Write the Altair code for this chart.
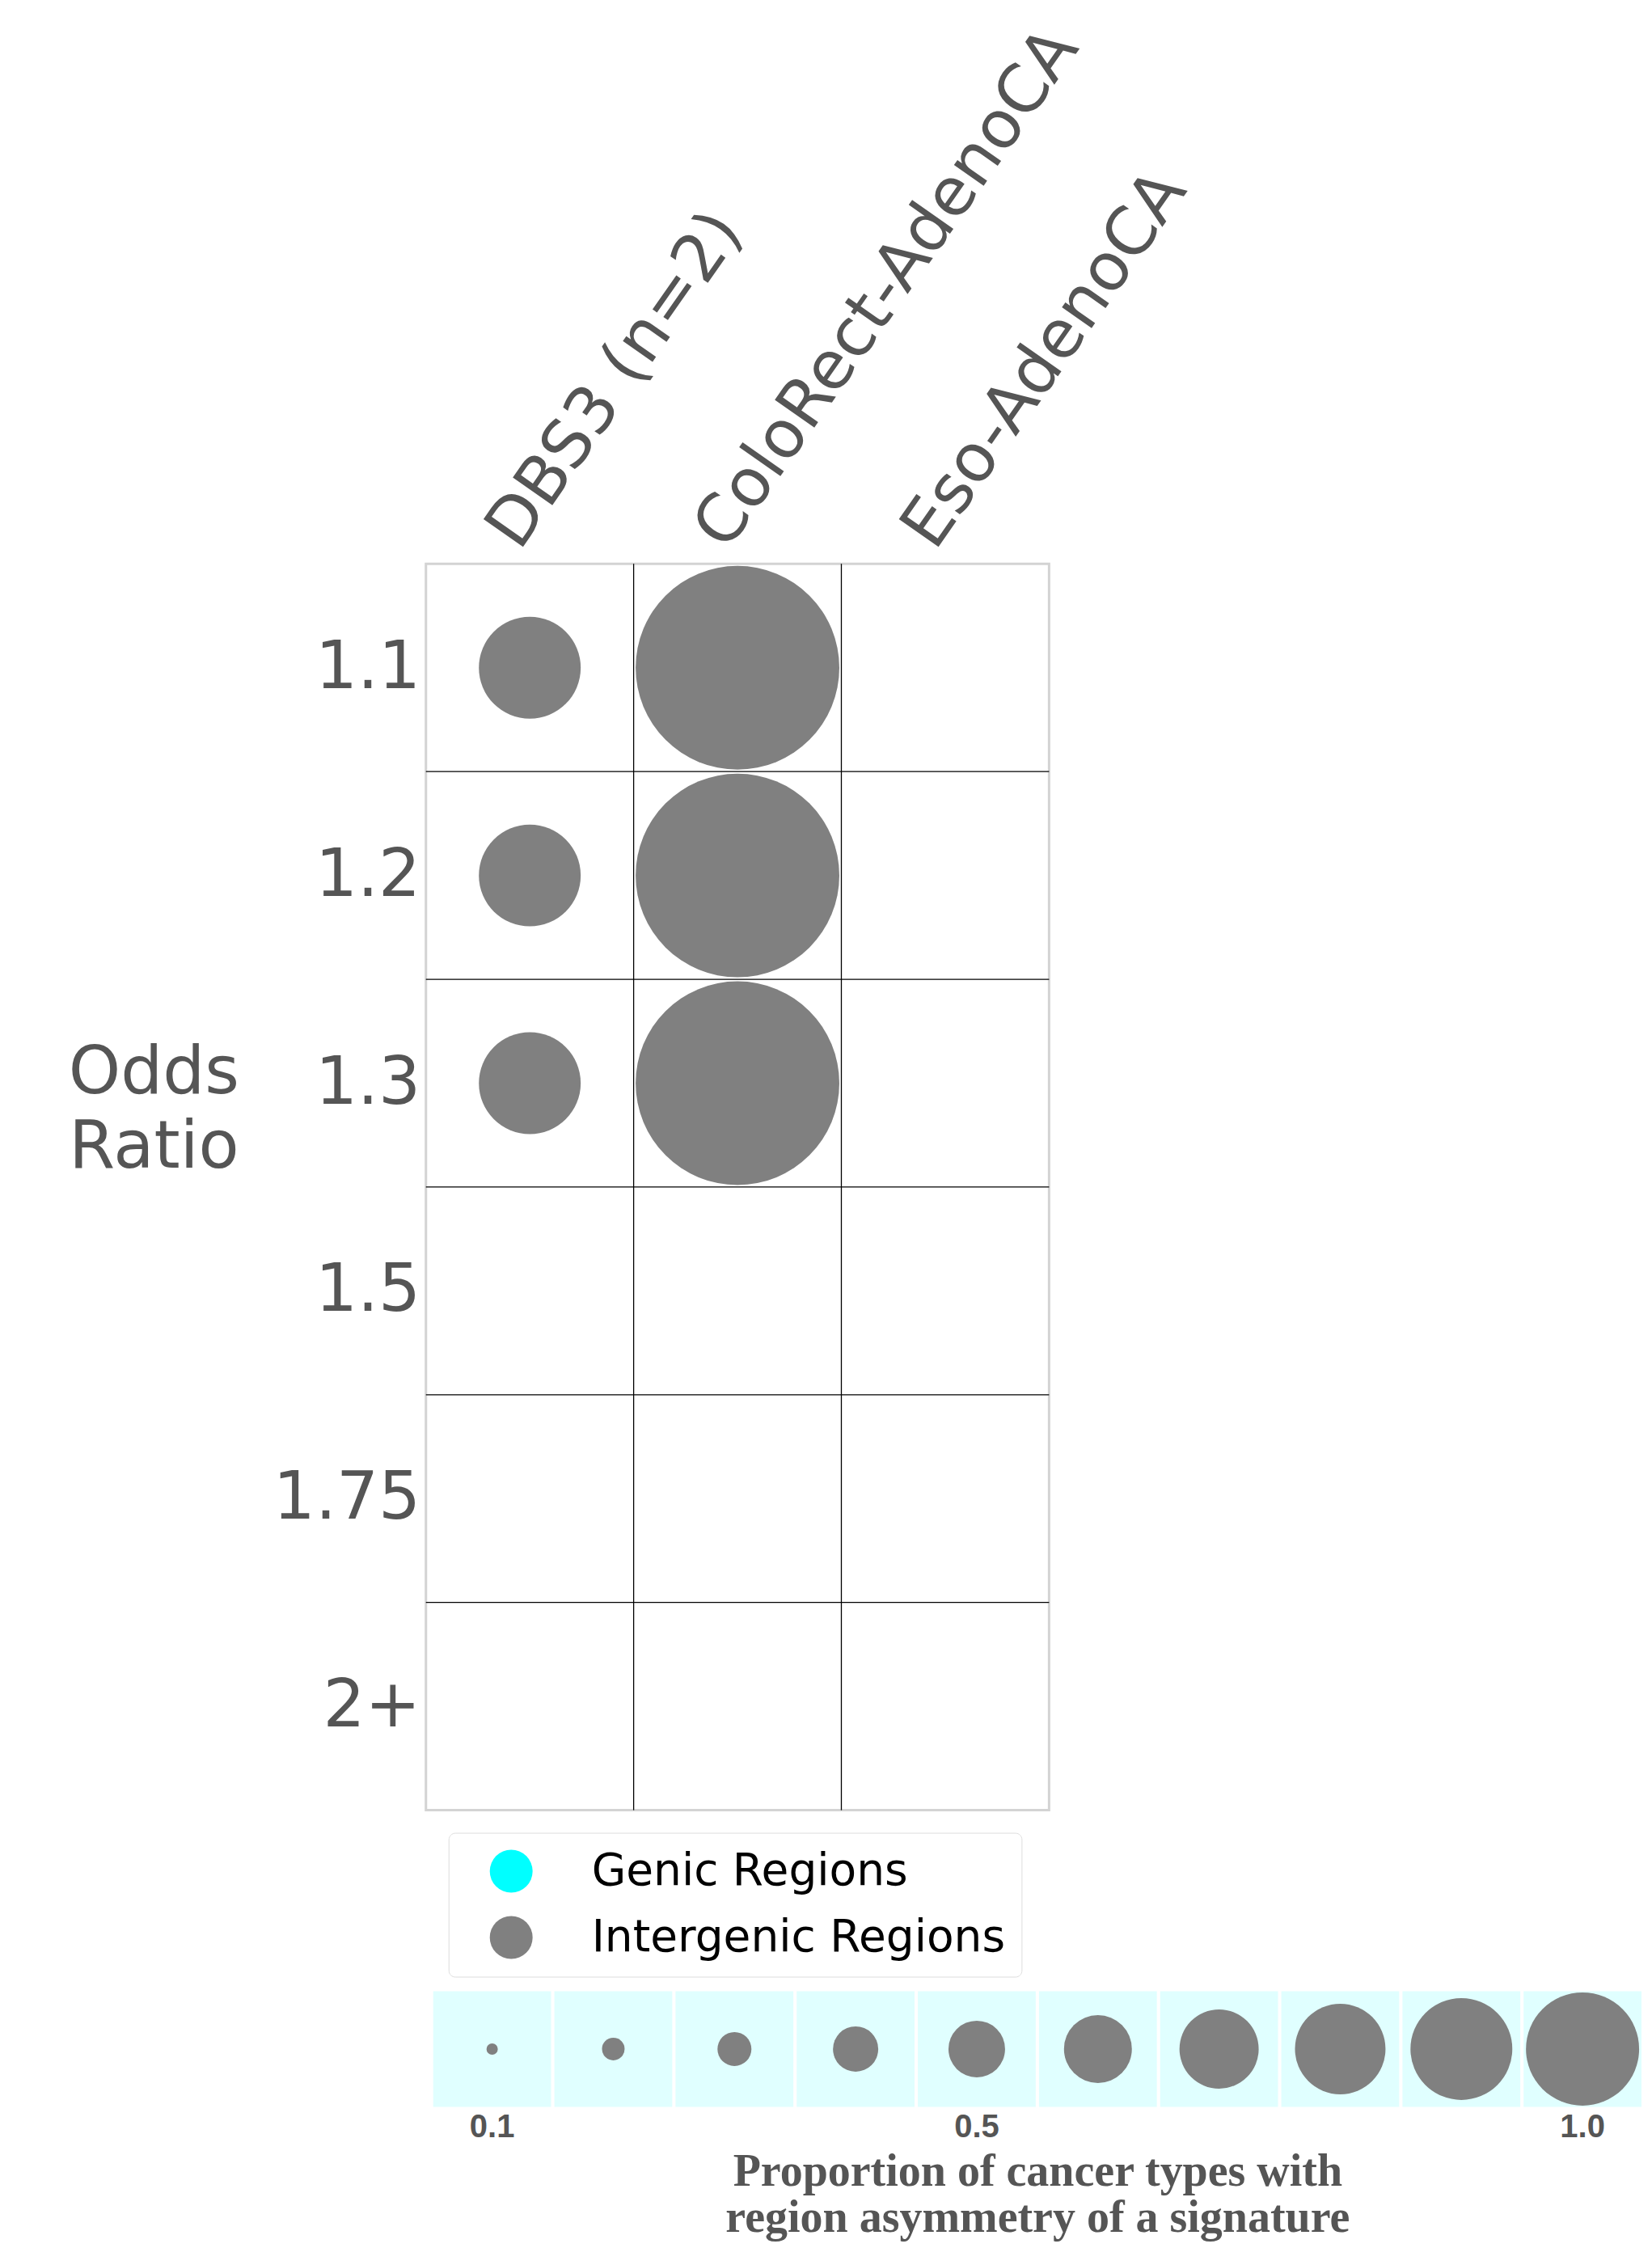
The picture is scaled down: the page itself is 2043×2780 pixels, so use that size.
import altair as alt
import pandas as pd

# ---------------- data ----------------
cancer_types = ["DBS3 (n=2)", "ColoRect-AdenoCA", "Eso-AdenoCA"]
odds_ratios = ["1.1", "1.2", "1.3", "1.5", "1.75", "2+"]

circle_type = ["DBS3 (n=2)", "DBS3 (n=2)", "DBS3 (n=2)",
               "ColoRect-AdenoCA", "ColoRect-AdenoCA", "ColoRect-AdenoCA"]
circle_odds = ["1.1", "1.2", "1.3", "1.1", "1.2", "1.3"]
circle_prop = [0.5, 0.5, 0.5, 1.0, 1.0, 1.0]
circle_region = ["Intergenic Regions"] * 6

regions = ["Genic Regions", "Intergenic Regions"]
region_colors = ["#00ffff", "#808080"]

size_labels = ["0.1", "0.2", "0.3", "0.4", "0.5", "0.6", "0.7", "0.8", "0.9", "1.0"]
size_values = [0.1, 0.2, 0.3, 0.4, 0.5, 0.6, 0.7, 0.8, 0.9, 1.0]
size_ticks = ["0.1", "0.5", "1.0"]
size_title = ["Proportion of cancer types with", "region asymmetry of a signature"]

# ---------------- styling ----------------
TXT = "#555555"
CELL = 257
W = CELL * len(cancer_types)
H = CELL * len(odds_ratios)
MAIN_D = 252      # diameter of a circle with proportion 1.0 in the grid
STRIP_D = 140     # diameter of a circle with proportion 1.0 in the size key

circles_df = pd.DataFrame({"ctype": circle_type, "odds": circle_odds,
                           "prop": circle_prop, "region": circle_region})
vlines_df = pd.DataFrame({"ctype": cancer_types[1:]})
hlines_df = pd.DataFrame({"odds": odds_ratios[1:]})

x_scale = alt.Scale(type="band", domain=cancer_types, paddingInner=0, paddingOuter=0)
y_scale = alt.Scale(type="band", domain=odds_ratios, paddingInner=0, paddingOuter=0)

x_axis = alt.Axis(orient="top", labelAngle=305, labelAlign="left",
                  labelBaseline="alphabetic", labelFont="DejaVu Sans",
                  labelFontSize=82, labelColor=TXT, labelPadding=15,
                  labelOffset=-13, ticks=False, tickSize=0, domain=False,
                  grid=False, title=None, labelLimit=3000, labelOverlap=False)
y_axis = alt.Axis(labelFont="DejaVu Sans", labelFontSize=82, labelColor=TXT,
                  labelPadding=7, ticks=False, tickSize=0, domain=False,
                  grid=False, labelOverlap=False, labelLimit=3000,
                  title=["Odds", "Ratio"], titleAngle=0, titleAlign="center",
                  titleBaseline="middle", titleX=-337, titleY=629,
                  titleFont="DejaVu Sans", titleFontSize=82,
                  titleFontWeight="normal", titleColor=TXT, titleLineHeight=93)

X = alt.X("ctype:N", scale=x_scale, axis=x_axis, bandPosition=0)
Xc = alt.X("ctype:N", scale=x_scale, axis=x_axis)
Y = alt.Y("odds:N", scale=y_scale, axis=y_axis, bandPosition=0)
Yc = alt.Y("odds:N", scale=y_scale, axis=y_axis)

vlines = alt.Chart(vlines_df).mark_rule(color="black", strokeWidth=1.3).encode(x=X)
hlines = alt.Chart(hlines_df).mark_rule(color="black", strokeWidth=1.3).encode(y=Y)

dots = alt.Chart(circles_df).mark_circle(opacity=1).encode(
    x=Xc, y=Yc,
    size=alt.Size("prop:Q", scale=alt.Scale(type="pow", exponent=2, domain=[0, 1],
                                            range=[0, MAIN_D ** 2]),
                  legend=None),
    color=alt.Color("region:N", scale=alt.Scale(domain=regions, range=region_colors),
                    legend=alt.Legend(title=None, orient="none", legendX=28, legendY=1570,
                                      padding=20, symbolOffset=30, labelOffset=72,
                                      labelFont="DejaVu Sans", labelFontSize=55,
                                      labelColor="black", labelLimit=2000,
                                      symbolType="circle", symbolSize=53 ** 2,
                                      symbolStrokeWidth=0, rowPadding=26,
                                      strokeColor="#dddddd", cornerRadius=8,
                                      fillColor="white")),
)

main = alt.layer(vlines, hlines, dots).properties(
    width=W, height=H,
    view=alt.ViewBackground(stroke="#d3d3d3", strokeWidth=3),
)

# ---------------- size key strip ----------------
strip_df = pd.DataFrame({"p": size_labels, "v": size_values})
sx_axis = alt.Axis(values=size_ticks, labelFont="Liberation Sans", labelFontWeight="bold",
                   labelFontSize=40, labelColor=TXT, labelPadding=5, labelAngle=0,
                   ticks=False, tickSize=0, domain=False, grid=False,
                   title=size_title, titleFont="Liberation Serif", titleFontWeight="bold",
                   titleFontSize=56, titleColor=TXT, titleLineHeight=57, titlePadding=8)
SX = alt.X("p:O", scale=alt.Scale(type="band", domain=size_labels, range=[9, 1504],
                                  paddingInner=0.027, paddingOuter=0), axis=sx_axis)

cells = alt.Chart(strip_df).mark_rect(color="#e0ffff").encode(x=SX)
sdots = alt.Chart(strip_df).mark_circle(opacity=1, color="#808080").encode(
    x=SX,
    size=alt.Size("v:Q", scale=alt.Scale(type="pow", exponent=2, domain=[0, 1],
                                         range=[0, STRIP_D ** 2]),
                  legend=None),
)
strip = alt.layer(cells, sdots).properties(
    width=1504, height=143,
    view=alt.ViewBackground(strokeWidth=0),
)

chart = alt.vconcat(main, strip, spacing=224, bounds="flush").resolve_scale(
    color="independent", size="independent", x="independent"
).properties(
    padding={"left": 74, "top": 10, "right": 5, "bottom": 5},
    background="white",
)

chart.save("out.html", embed_options={"renderer": "svg", "actions": False})
